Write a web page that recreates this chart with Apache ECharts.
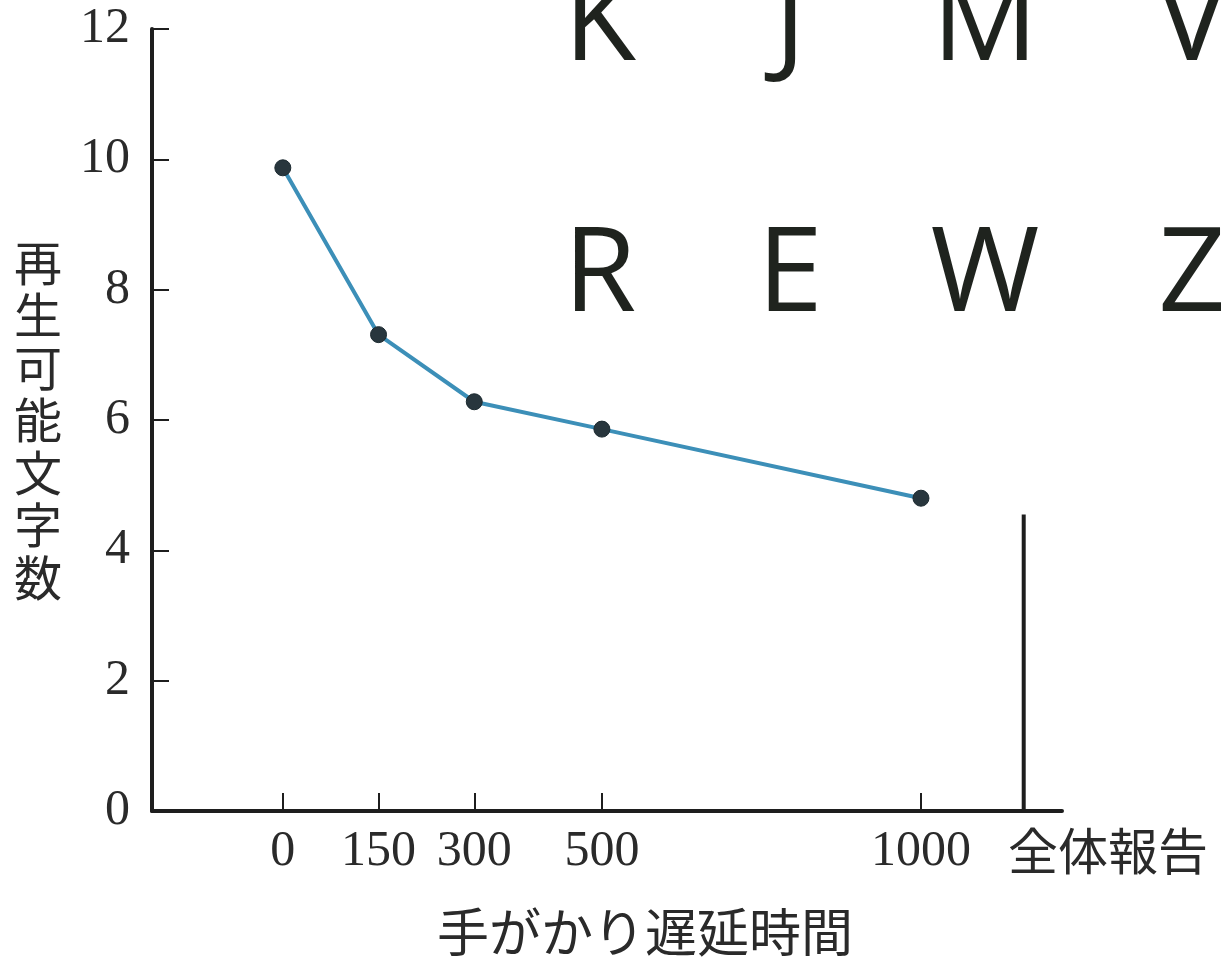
<!DOCTYPE html>
<html><head><meta charset="utf-8">
<script src="https://cdn.jsdelivr.net/npm/echarts@6/dist/echarts.min.js"></script>
<style>html,body{margin:0;padding:0;background:#fff}#c{width:1221px;height:963px}</style>
</head><body><div id="c"></div>
<script>
// ---- data ----
const delays = [0, 150, 300, 500, 1000];           // 手がかり遅延時間 (ms)
const recalled = [9.87, 7.31, 6.28, 5.86, 4.8];    // 再生可能文字数 (部分報告)
const wholeReportPos = 1161;                       // x position of 全体報告 bar
const wholeReport = 4.55;                          // 全体報告
const yTicks = [0, 2, 4, 6, 8, 10, 12];
const yTickMarks = [2, 4, 6, 8, 10, 12];
const xTickValues = [0, 150, 300, 500, 1000];
const letterRows = [['K', 'J', 'M', 'V'], ['R', 'E', 'W', 'Z']];
const xName = '手がかり遅延時間';
const yName = '再生可能文字数';
const wholeLabel = '全体報告';

const ink = '#1e1e1e';
const serif = '"Liberation Serif", "DejaVu Serif", serif';
const cjk = '"Noto Sans CJK JP", sans-serif';

const letterCols = [600, 790, 985, 1192];
const letterRowsY = [26, 277];
const graphics = [];
letterRows.forEach((row, ri) => row.forEach((ch, ci) => {
  graphics.push({ type: 'text', x: letterCols[ci], y: letterRowsY[ri],
    style: { text: ch, font: '118px "Open Sans", "Noto Sans", sans-serif', fill: '#1f231e',
      textAlign: 'center', textVerticalAlign: 'middle' } });
}));
graphics.push({ type: 'text', x: 1108, y: 851,
  style: { text: wholeLabel, font: '50px ' + cjk, fill: '#2a2a2a', textAlign: 'center', textVerticalAlign: 'middle' } });

const chart = echarts.init(document.getElementById('c'), null, { renderer: 'canvas' });
chart.setOption({
  backgroundColor: '#ffffff',
  animation: false,
  grid: { left: 152, top: 29, width: 910, height: 784, containLabel: false },
  xAxis: {
    type: 'value', min: -205, max: 1221,
    name: xName, nameLocation: 'middle', nameGap: 95,
    nameTextStyle: { fontFamily: cjk, fontSize: 52, color: '#2a2a2a', padding: [0, 0, 0, 76] },
    axisLine: { show: true, onZero: false, lineStyle: { color: ink, width: 4 } },
    axisTick: { show: true, inside: true, length: 18, customValues: xTickValues, lineStyle: { color: ink, width: 2 } },
    axisLabel: { show: true, customValues: xTickValues, margin: 16, fontFamily: serif, fontSize: 50, color: '#2a2a2a',
      formatter: v => String(v) },
    splitLine: { show: false }
  },
  yAxis: {
    type: 'value', min: 0, max: 12, interval: 2,
    name: yName.split('').join('\n'), nameLocation: 'middle', nameRotate: 0, nameGap: 90,
    nameTextStyle: { fontFamily: cjk, fontSize: 48, lineHeight: 52.5, color: '#2a2a2a' },
    axisLine: { show: true, onZero: false, lineStyle: { color: ink, width: 4 } },
    axisTick: { show: true, inside: true, length: 17, customValues: yTickMarks, lineStyle: { color: ink, width: 2 } },
    axisLabel: { show: true, customValues: yTicks, margin: 22, fontFamily: serif, fontSize: 50, color: '#2a2a2a' },
    splitLine: { show: false }
  },
  graphic: graphics,
  series: [
    {
      type: 'line',
      data: delays.map((d, i) => [d, recalled[i]]),
      symbol: 'circle', symbolSize: 16,
      itemStyle: { color: '#28363d', borderColor: '#1c2a30', borderWidth: 1 },
      lineStyle: { color: '#3c8fb8', width: 4 },
      z: 3
    },
    {
      type: 'line',
      data: [[wholeReportPos, 0], [wholeReportPos, wholeReport]],
      symbol: 'none',
      lineStyle: { color: ink, width: 4 },
      z: 2
    }
  ]
});
</script>
</body></html>
